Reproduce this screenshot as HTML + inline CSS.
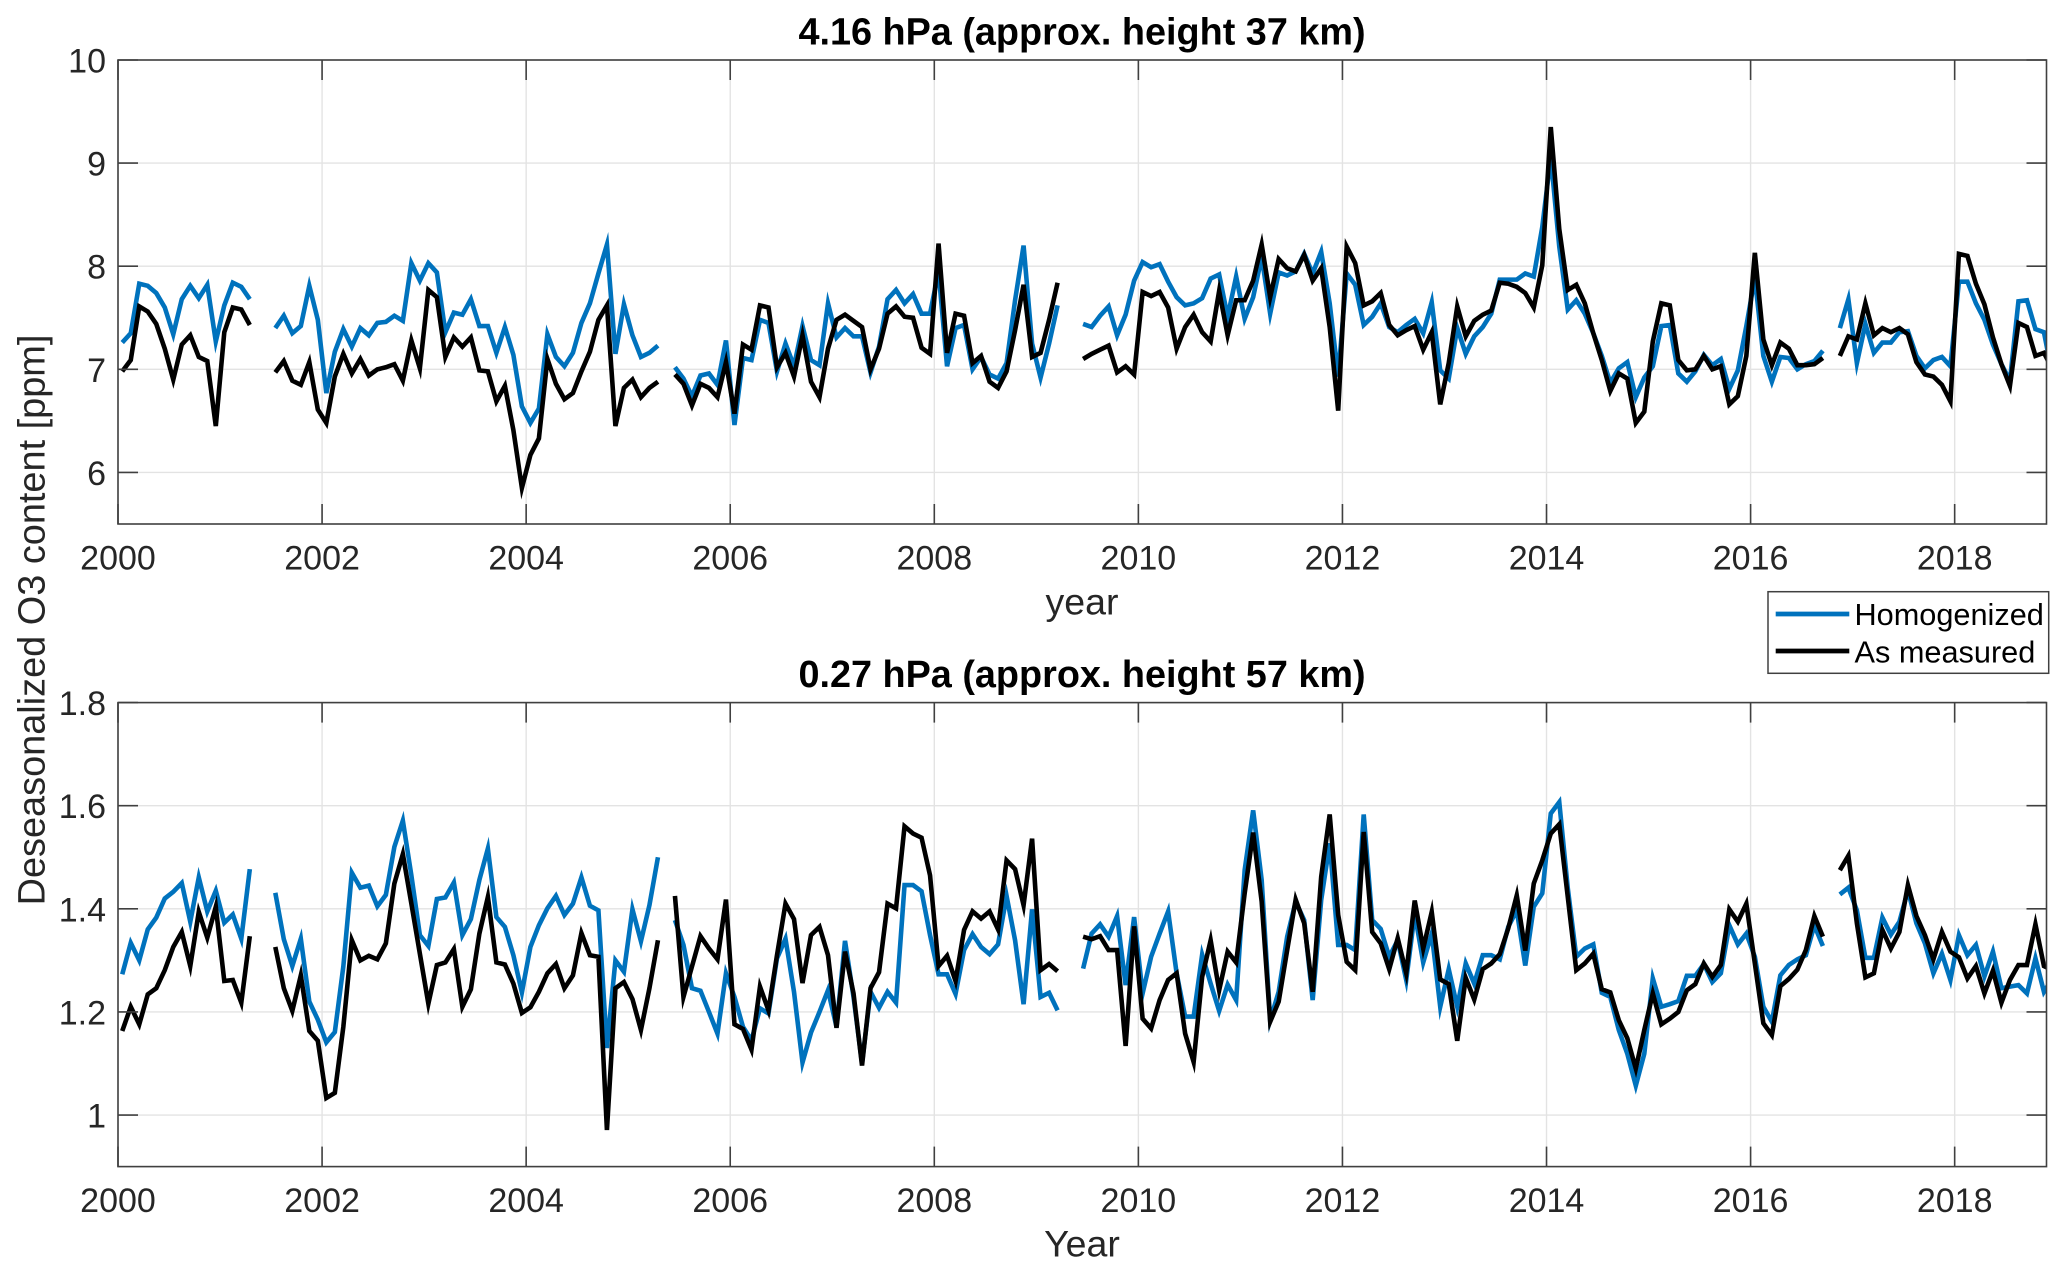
<!DOCTYPE html>
<html lang="en">
<head>
<meta charset="utf-8">
<title>Deseasonalized O3 content</title>
<style>
  html, body { margin: 0; padding: 0; background: #fff; }
  body { width: 2067px; height: 1275px; overflow: hidden; }
  svg { display: block; font-family: "Liberation Sans", Arial, sans-serif; }
</style>
</head>
<body>
<svg id="chart" xmlns="http://www.w3.org/2000/svg" width="2067" height="1275" viewBox="0 0 2067 1275">
  <defs>
    <clipPath id="clip-top"><rect x="118" y="60" width="1928.5" height="464"></rect></clipPath>
    <clipPath id="clip-bottom"><rect x="118" y="702.6" width="1928.5" height="464"></rect></clipPath>
  </defs>
  <rect width="2067" height="1275" fill="#fff"></rect>
  <g id="panel-top"></g>
  <g id="panel-bottom"></g>
  <text x="1082" y="44.5" text-anchor="middle" font-size="37.8" font-weight="bold" fill="#000">4.16 hPa (approx. height 37 km)</text>
  <text x="1082" y="687" text-anchor="middle" font-size="37.8" font-weight="bold" fill="#000">0.27 hPa (approx. height 57 km)</text>
  <text x="1082" y="614.5" text-anchor="middle" font-size="37.5" fill="#262626">year</text>
  <text x="1082" y="1256.5" text-anchor="middle" font-size="37.5" fill="#262626">Year</text>
  <text transform="translate(44.5 620) rotate(-90)" text-anchor="middle" font-size="37.9" fill="#262626">Deseasonalized O3 content [ppm]</text>
  <g>
    <rect x="1768" y="591.7" width="280.7" height="81.6" fill="#fff" stroke="#404040" stroke-width="1.5"></rect>
    <line x1="1775.7" y1="614" x2="1849.3" y2="614" stroke="#0072BD" stroke-width="4.8"></line>
    <text x="1854.5" y="625" font-size="30.7" fill="#000">Homogenized</text>
    <line x1="1775.7" y1="651" x2="1849.3" y2="651" stroke="#000" stroke-width="4.8"></line>
    <text x="1854.5" y="662.3" font-size="30.7" fill="#000">As measured</text>
  </g>
</svg>
<script>
// Monthly values starting January 2000; null marks a data gap.
const startYear = 2000;
const xTickYears = [2000, 2002, 2004, 2006, 2008, 2010, 2012, 2014, 2016, 2018];
const topYTicks = [6, 7, 8, 9, 10];
const bottomYTicks = [1, 1.2, 1.4, 1.6, 1.8];
const bottomYTickLabels = ['1', '1.2', '1.4', '1.6', '1.8'];

const topHomogenized = [
  7.26,7.35,7.83,7.81,7.74,7.60,7.34,7.68,7.81,7.69,7.82,7.27,7.62,7.84,7.80,7.68,
  null,null,
  7.40,7.52,7.35,7.42,7.81,7.48,6.77,7.17,7.39,7.22,7.40,7.33,7.45,7.46,7.52,7.47,8.03,7.86,8.03,7.94,7.36,7.55,7.53,7.68,7.42,7.42,7.16,7.41,7.14,6.64,6.48,6.62,7.34,7.12,7.03,7.16,7.45,7.64,7.93,8.21,7.15,7.63,7.33,7.12,7.16,7.23,
  null,
  7.02,6.91,6.74,6.94,6.96,6.85,7.28,6.46,7.11,7.09,7.48,7.45,6.98,7.25,7.03,7.42,7.09,7.04,7.64,7.31,7.40,7.32,7.32,6.97,7.22,7.68,7.77,7.64,7.73,7.54,7.54,7.95,7.03,7.40,7.43,7.00,7.12,6.95,6.91,7.06,7.67,8.20,7.25,6.92,7.25,7.62,
  null,null,
  7.44,7.41,7.52,7.61,7.33,7.53,7.86,8.04,7.99,8.02,7.85,7.70,7.62,7.64,7.69,7.88,7.92,7.51,7.90,7.49,7.70,8.09,7.54,7.94,7.91,7.95,8.12,7.93,8.14,7.64,6.93,7.93,7.82,7.43,7.51,7.64,7.41,7.36,7.43,7.49,7.35,7.65,6.99,6.91,7.40,7.15,7.32,7.41,7.54,7.87,7.87,7.87,7.93,7.90,8.38,9.06,8.19,7.58,7.67,7.54,7.35,
  7.13,6.87,7.01,7.07,6.73,6.92,7.03,7.42,7.43,6.96,6.88,6.98,7.14,7.04,7.10,6.81,6.99,7.42,7.89,7.13,6.88,7.12,7.11,7.00,7.05,7.08,7.18,
  null,
  7.40,7.68,7.06,7.44,7.16,7.26,7.26,7.36,7.37,7.13,7.01,7.09,7.12,7.03,7.85,7.85,7.64,7.48,7.24,7.05,6.89,7.66,7.67,7.39,7.36,6.94
];

const topAsMeasured = [
  6.98,7.09,7.61,7.56,7.44,7.20,6.90,7.24,7.33,7.12,7.08,6.45,7.36,7.60,7.58,7.43,
  null,null,
  6.97,7.08,6.89,6.85,7.07,6.61,6.48,6.93,7.15,6.96,7.10,6.94,7.00,7.02,7.05,6.89,7.28,7.01,7.77,7.70,7.12,7.31,7.22,7.31,6.99,6.98,6.69,6.84,6.41,5.85,6.17,6.33,7.10,6.86,6.71,6.77,6.98,7.17,7.48,7.62,6.45,6.82,6.90,6.73,6.82,6.88,
  null,
  6.95,6.86,6.65,6.86,6.82,6.73,7.07,6.57,7.24,7.19,7.62,7.60,7.02,7.16,6.93,7.33,6.88,6.73,7.20,7.48,7.53,7.47,7.41,7.00,7.20,7.54,7.61,7.51,7.50,7.21,7.15,8.22,7.16,7.54,7.52,7.06,7.13,6.88,6.82,6.98,7.38,7.82,7.12,7.16,7.48,7.84,
  null,null,
  7.10,7.15,7.19,7.23,6.97,7.03,6.95,7.75,7.71,7.75,7.60,7.20,7.41,7.53,7.36,7.27,7.76,7.33,7.67,7.67,7.86,8.21,7.70,8.07,7.98,7.95,8.11,7.86,7.98,7.41,6.60,8.19,8.03,7.62,7.66,7.74,7.43,7.33,7.38,7.42,7.19,7.36,6.66,7.06,7.61,7.32,7.47,7.53,7.57,7.84,7.83,7.80,7.74,7.60,8.01,9.35,8.36,7.77,7.82,7.64,7.35,
  7.09,6.79,6.96,6.91,6.48,6.59,7.27,7.64,7.62,7.09,6.99,7.00,7.13,7.00,7.03,6.66,6.74,7.13,8.13,7.29,7.04,7.26,7.20,7.04,7.04,7.05,7.11,
  null,
  7.13,7.32,7.29,7.64,7.33,7.40,7.36,7.40,7.34,7.07,6.95,6.93,6.85,6.69,8.12,8.10,7.83,7.63,7.31,7.05,6.84,7.45,7.41,7.13,7.16,7.00
];

const bottomHomogenized = [
  1.273,1.334,1.300,1.360,1.383,1.420,1.433,1.450,1.375,1.461,1.395,1.435,1.373,1.389,1.342,1.477,
  null,null,
  1.431,1.341,1.289,1.342,1.220,1.185,1.141,1.161,1.288,1.470,1.441,1.445,1.405,1.427,1.520,1.571,1.465,1.349,1.328,1.419,1.422,1.451,1.349,1.380,1.456,1.517,1.384,1.365,1.310,1.238,1.326,1.368,1.401,1.425,1.388,1.410,1.461,1.406,1.397,1.130,1.300,1.278,1.399,1.337,1.407,1.500,
  null,
  1.378,1.330,1.246,1.241,1.200,1.158,1.275,1.229,1.171,1.145,1.207,1.197,1.304,1.342,1.239,1.102,1.160,1.200,1.242,1.171,1.338,1.229,1.100,1.239,1.208,1.239,1.218,1.446,1.446,1.434,1.349,1.273,1.273,1.235,1.320,1.351,1.326,1.312,1.331,1.425,1.339,1.215,1.399,1.229,1.237,1.203,
  null,null,
  1.284,1.352,1.370,1.346,1.386,1.252,1.384,1.236,1.307,1.352,1.395,1.275,1.191,1.191,1.311,1.255,1.202,1.253,1.223,1.475,1.591,1.456,1.184,1.239,1.346,1.414,1.378,1.223,1.417,1.527,1.330,1.330,1.320,1.583,1.378,1.361,1.307,1.339,1.262,1.391,1.296,1.352,1.210,1.283,1.210,1.294,1.255,1.310,1.310,1.302,1.365,1.397,1.290,1.404,1.430,1.585,
  1.607,1.440,1.307,1.323,1.331,1.237,1.229,1.165,1.119,1.057,1.119,1.265,1.210,1.215,1.221,1.270,1.270,1.293,1.258,1.275,1.368,1.331,1.352,1.307,1.210,1.181,1.271,1.291,1.302,1.310,1.368,1.328,
  null,
  1.428,1.441,1.397,1.305,1.305,1.383,1.350,1.375,1.436,1.372,1.333,1.275,1.313,1.262,1.349,1.310,1.330,1.269,1.317,1.246,1.249,1.252,1.236,1.304,1.239,1.265
];

const bottomAsMeasured = [
  1.163,1.210,1.176,1.234,1.246,1.281,1.326,1.355,1.289,1.394,1.344,1.404,1.260,1.262,1.218,1.347,
  null,null,
  1.326,1.246,1.202,1.271,1.163,1.144,1.033,1.043,1.171,1.339,1.300,1.309,1.302,1.333,1.449,1.506,1.410,1.313,1.216,1.291,1.296,1.322,1.210,1.244,1.352,1.423,1.296,1.292,1.255,1.198,1.209,1.239,1.275,1.293,1.246,1.271,1.353,1.310,1.307,0.971,1.246,1.258,1.225,1.165,1.246,1.339,
  null,
  1.425,1.229,1.288,1.347,1.323,1.302,1.418,1.176,1.167,1.127,1.249,1.203,1.310,1.410,1.380,1.256,1.349,1.365,1.310,1.169,1.317,1.236,1.096,1.246,1.277,1.410,1.401,1.560,1.546,1.538,1.465,1.289,1.309,1.260,1.359,1.395,1.381,1.395,1.360,1.494,1.477,1.407,1.536,1.281,1.293,1.279,
  null,null,
  1.346,1.341,1.347,1.320,1.320,1.134,1.366,1.187,1.168,1.223,1.262,1.275,1.158,1.103,1.268,1.339,1.242,1.317,1.296,1.430,1.548,1.414,1.181,1.220,1.320,1.418,1.372,1.239,1.462,1.583,1.388,1.297,1.281,1.549,1.355,1.333,1.283,1.343,1.275,1.416,1.323,1.394,1.263,1.254,1.144,1.266,1.224,1.283,1.294,1.312,1.362,1.426,1.319,1.449,1.494,1.546,
  1.564,1.423,1.281,1.294,1.313,1.244,1.238,1.184,1.149,1.090,1.165,1.236,1.176,1.187,1.200,1.242,1.254,1.294,1.268,1.291,1.399,1.375,1.410,1.294,1.178,1.155,1.250,1.264,1.282,1.320,1.386,1.346,
  null,
  1.475,1.503,1.372,1.267,1.275,1.359,1.323,1.355,1.446,1.386,1.349,1.302,1.355,1.317,1.306,1.265,1.289,1.236,1.280,1.218,1.262,1.291,1.291,1.370,1.289,1.281
];

const SVG_NS = 'http://www.w3.org/2000/svg';
const plotLeft = 118;
const plotRight = 2046.5;
const xDomainEnd = 2018.9;

function xScale(year) {
  return plotLeft + (year - startYear) / (xDomainEnd - startYear) * (plotRight - plotLeft);
}
function monthToYear(index) {
  return startYear + (index + 0.5) / 12;
}
function makeYScale(yMin, yMax, pxTop, pxBottom) {
  return function (v) { return pxBottom - (v - yMin) / (yMax - yMin) * (pxBottom - pxTop); };
}
function svgEl(tag, attrs, parent) {
  const el = document.createElementNS(SVG_NS, tag);
  for (const k in attrs) el.setAttribute(k, attrs[k]);
  parent.appendChild(el);
  return el;
}
function seriesPath(values, yScale) {
  let d = '';
  let pen = false;
  values.forEach(function (v, i) {
    if (v === null) { pen = false; return; }
    d += (pen ? 'L' : 'M') + xScale(monthToYear(i)).toFixed(2) + ' ' + yScale(v).toFixed(2);
    pen = true;
  });
  return d;
}

function drawPanel(prefix, group, clipId, pxTop, pxBottom, yMin, yMax, yTicks, yLabels, blue, black) {
  const y = makeYScale(yMin, yMax, pxTop, pxBottom);
  const axisColor = '#404040';

  xTickYears.forEach(function (yr) {
    const gx = svgEl('line', { x1: xScale(yr), x2: xScale(yr), y1: pxTop, y2: pxBottom, stroke: '#e3e3e3', 'stroke-width': 1.4 }, group);
    
    
  });
  yTicks.forEach(function (t) {
    const gy = svgEl('line', { x1: plotLeft, x2: plotRight, y1: y(t), y2: y(t), stroke: '#e3e3e3', 'stroke-width': 1.4 }, group);
    
    
  });

  const blueLine = svgEl('path', { d: seriesPath(blue, y), fill: 'none', stroke: '#0072BD', 'stroke-width': 4.6, 'stroke-linejoin': 'miter', 'stroke-miterlimit': 6, 'clip-path': 'url(#' + clipId + ')' }, group);
  
  
  const blackLine = svgEl('path', { d: seriesPath(black, y), fill: 'none', stroke: '#000', 'stroke-width': 4.6, 'stroke-linejoin': 'miter', 'stroke-miterlimit': 6, 'clip-path': 'url(#' + clipId + ')' }, group);
  
  

  const frame = svgEl('rect', { x: plotLeft, y: pxTop, width: plotRight - plotLeft, height: pxBottom - pxTop, fill: 'none', stroke: axisColor, 'stroke-width': 1.6 }, group);
  
  

  xTickYears.forEach(function (yr) {
    const px = xScale(yr);
    const tb = svgEl('line', { x1: px, x2: px, y1: pxBottom, y2: pxBottom - 20, stroke: axisColor, 'stroke-width': 1.6 }, group);
    
    
    const tt = svgEl('line', { x1: px, x2: px, y1: pxTop, y2: pxTop + 20, stroke: axisColor, 'stroke-width': 1.6 }, group);
    
    
    const label = svgEl('text', { x: px, y: pxBottom + 45.5, 'text-anchor': 'middle', 'font-size': 34, fill: '#262626' }, group);
    label.textContent = String(yr);
    
    
  });

  yTicks.forEach(function (t, i) {
    const py = y(t);
    const tl = svgEl('line', { x1: plotLeft, x2: plotLeft + 20, y1: py, y2: py, stroke: axisColor, 'stroke-width': 1.6 }, group);
    
    
    const tr = svgEl('line', { x1: plotRight, x2: plotRight - 20, y1: py, y2: py, stroke: axisColor, 'stroke-width': 1.6 }, group);
    
    
    const label = svgEl('text', { x: plotLeft - 12, y: py + 12.5, 'text-anchor': 'end', 'font-size': 34, fill: '#262626' }, group);
    label.textContent = yLabels[i];
    
    
  });
}

drawPanel('top', document.getElementById('panel-top'), 'clip-top', 60, 524, 5.5, 10, topYTicks, topYTicks.map(String), topHomogenized, topAsMeasured);
drawPanel('bottom', document.getElementById('panel-bottom'), 'clip-bottom', 702.6, 1166.6, 0.9, 1.8, bottomYTicks, bottomYTickLabels, bottomHomogenized, bottomAsMeasured);
</script>
</body>
</html>
